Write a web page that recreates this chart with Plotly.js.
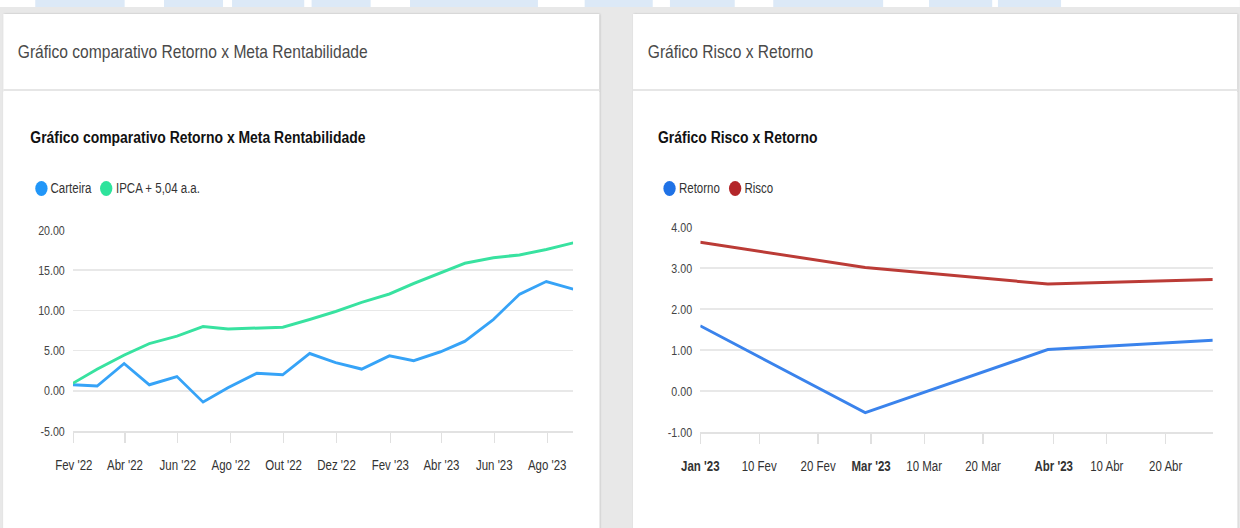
<!DOCTYPE html>
<html>
<head>
<meta charset="utf-8">
<script src="https://cdn.plot.ly/plotly-3.0.1.min.js"></script>
<style>
  html, body { margin:0; padding:0; width:1240px; height:528px; overflow:hidden; background:#e8e8e8; }
  /* the reference screenshot is horizontally compressed: lay out at 1512px and squeeze to 1240px */
  #page { position:absolute; left:0; top:0; width:1512px; height:528px; transform:scaleX(0.82); transform-origin:0 0;
    font-family:"Liberation Sans", Arial, sans-serif; }
  #strip { position:absolute; left:0; top:0; width:1512px; height:7px; background:#fff; overflow:hidden; }
  .wm { position:absolute; top:0; height:7px; background:#dce9f7; }
  .card { position:absolute; top:14px; height:530px; background:#fff; box-shadow:1px 0 2px rgba(0,0,0,0.22); }
  .hdr { position:absolute; left:0; right:0; top:0; height:75px; border-bottom:2px solid #e6e6e6; }
  .hdr span { position:absolute; left:18px; top:27px; font-size:19px; line-height:22px; color:#4a4a4a; white-space:nowrap; }
  .chart { position:absolute; left:0; top:78px; height:436px; }
  .leg { position:absolute; top:166px; z-index:5; display:flex; align-items:center; font-size:14px; line-height:16px; color:#333; white-space:nowrap; }
  .dot { display:inline-block; width:15px; height:15px; border-radius:50%; margin-right:4px; }
  .gap { display:inline-block; width:11px; }
</style>
</head>
<body>
<div id="page">
<div id="strip">
  <div class="wm" style="left:43px;width:109px"></div>
  <div class="wm" style="left:200px;width:72px"></div>
  <div class="wm" style="left:283px;width:88px"></div>
  <div class="wm" style="left:380px;width:72px"></div>
  <div class="wm" style="left:500px;width:156px"></div>
  <div class="wm" style="left:713px;width:83px"></div>
  <div class="wm" style="left:817px;width:79px"></div>
  <div class="wm" style="left:943px;width:134px"></div>
  <div class="wm" style="left:1133px;width:77px"></div>
  <div class="wm" style="left:1217px;width:77px"></div>
</div>

<div class="card" style="left:3.7px;width:727px">
  <div class="hdr"><span>Gráfico comparativo Retorno x Meta Rentabilidade</span></div>
  <div class="leg" style="left:39px">
    <span class="dot" style="background:#2196f8"></span><span>Carteira</span><span class="gap"></span>
    <span class="dot" style="background:#2ee39c"></span><span>IPCA + 5,04 a.a.</span>
  </div>
  <div id="chart1" class="chart" style="width:727px"></div>
</div>

<div class="card" style="left:772px;width:736.6px">
  <div class="hdr"><span>Gráfico Risco x Retorno</span></div>
  <div class="leg" style="left:37px">
    <span class="dot" style="background:#1f72e6"></span><span>Retorno</span><span class="gap"></span>
    <span class="dot" style="background:#b3262a"></span><span>Risco</span>
  </div>
  <div id="chart2" class="chart" style="width:736.6px"></div>
</div>
</div>

<script>
// ---------- Chart 1 data ----------
const dates1 = ["2022-01-31","2022-02-28","2022-03-31","2022-04-29","2022-05-31","2022-06-30",
                "2022-07-29","2022-08-31","2022-09-30","2022-10-31","2022-11-30","2022-12-30",
                "2023-01-31","2023-02-28","2023-03-31","2023-04-28","2023-05-31","2023-06-30",
                "2023-07-31","2023-08-31"];
const carteira = [0.74, 0.60, 3.40, 0.75, 1.77, -1.40, 0.40, 2.18, 2.00, 4.64, 3.50, 2.70,
                  4.35, 3.74, 4.85, 6.16, 8.87, 12.00, 13.60, 12.65];
const ipca = [0.94, 2.70, 4.44, 5.87, 6.80, 8.00, 7.70, 7.76, 7.90, 8.87, 9.86, 11.00,
              12.04, 13.35, 14.67, 15.86, 16.56, 16.90, 17.58, 18.40];
const xTickVals1 = ["2022-02-01","2022-04-01","2022-06-01","2022-08-01","2022-10-01","2022-12-01",
                    "2023-02-01","2023-04-01","2023-06-01","2023-08-01"];
const xTickText1 = ["Fev '22","Abr '22","Jun '22","Ago '22","Out '22","Dez '22",
                    "Fev '23","Abr '23","Jun '23","Ago '23"];
const yTicks1 = [-5, 0, 5, 10, 15, 20];

// ---------- Chart 2 data ----------
const dates2 = ["2023-01-31","2023-02-28","2023-03-31","2023-04-28"];
const retorno = [1.59, -0.53, 1.01, 1.24];
const risco = [3.63, 3.01, 2.61, 2.72];
const xTickVals2 = ["2023-01-31","2023-02-10","2023-02-20","2023-03-01","2023-03-10",
                    "2023-03-20","2023-04-01","2023-04-10","2023-04-20"];
const xTickText2 = ["<b>Jan '23</b>","10 Fev","20 Fev","<b>Mar '23</b>","10 Mar",
                    "20 Mar","<b>Abr '23</b>","10 Abr","20 Abr"];
const yTicks2 = [-1, 0, 1, 2, 3, 4];

const FONT = "'Liberation Sans', Arial, sans-serif";

function baseLayout(opts) {
  return {
    width: opts.w, height: 436,
    margin: opts.margin,
    paper_bgcolor: '#fff', plot_bgcolor: '#fff',
    showlegend: false,
    font: { family: FONT, color: '#333' },
    title: {
      text: opts.title, xref: 'container', yref: 'container',
      x: opts.titleX / opts.w, xanchor: 'left', y: 1 - 45 / 436, yanchor: 'middle',
      font: { family: FONT, size: 17, color: '#111', weight: 'bold' }
    },
    xaxis: {
      type: 'date', range: opts.xrange, showgrid: false, zeroline: false,
      showline: true, linecolor: '#e2e2e2', linewidth: 2,
      ticks: 'outside', ticklen: 10, tickcolor: '#e0e0e0', tickwidth: 1.5,
      tickmode: 'array', tickvals: opts.xtv, ticktext: opts.xtt,
      tickfont: { family: FONT, size: 14, color: '#333' },
      ticklabelstandoff: 10, fixedrange: true
    },
    yaxis: {
      range: opts.yrange, showgrid: true, gridcolor: '#e8e8e8', gridwidth: 1.5,
      zeroline: false, showline: false, ticks: '',
      tickmode: 'array', tickvals: opts.ytv, ticktext: opts.ytv.map(v => v.toFixed(2)),
      tickfont: { family: FONT, size: 13, color: '#444' },
      ticklabelstandoff: 9, fixedrange: true
    }
  };
}

Plotly.newPlot('chart1', [
  { x: dates1, y: carteira, name: 'Carteira', type: 'scatter', mode: 'lines',
    line: { color: '#36a3f7', width: 3 } },
  { x: dates1, y: ipca, name: 'IPCA + 5,04 a.a.', type: 'scatter', mode: 'lines',
    line: { color: '#38e2a0', width: 3 } }
], baseLayout({
  w: 727, margin: { l: 85.4, r: 31.7, t: 138, b: 96.5, pad: 0 },
  title: 'Gráfico comparativo Retorno x Meta Rentabilidade', titleX: 33,
  xrange: [dates1[0], dates1[dates1.length - 1]], xtv: xTickVals1, xtt: xTickText1,
  yrange: [-5, 20], ytv: yTicks1
}), { staticPlot: true, displayModeBar: false });

Plotly.newPlot('chart2', [
  { x: dates2, y: retorno, name: 'Retorno', type: 'scatter', mode: 'lines',
    line: { color: '#3a83ec', width: 3 } },
  { x: dates2, y: risco, name: 'Risco', type: 'scatter', mode: 'lines',
    line: { color: '#bb3b36', width: 3 } }
], baseLayout({
  w: 736.6, margin: { l: 81.7, r: 29.9, t: 134.7, b: 96.3, pad: 0 },
  title: 'Gráfico Risco x Retorno', titleX: 30.5,
  xrange: [dates2[0], dates2[dates2.length - 1]], xtv: xTickVals2, xtt: xTickText2,
  yrange: [-1, 4], ytv: yTicks2
}), { staticPlot: true, displayModeBar: false });
</script>
</body>
</html>
